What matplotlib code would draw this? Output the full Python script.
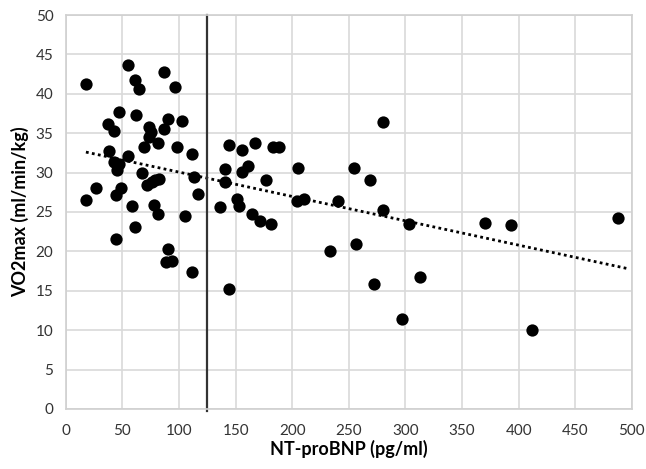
import numpy as np
import matplotlib
matplotlib.use('Agg')
from matplotlib import pyplot as plt

# NT-proBNP (pg/ml) vs VO2max (ml/min/kg)
ntprobnp = [17.7, 17.7, 27, 37.4, 42.7, 38.3, 42.7, 47, 45.3, 46.8,
            48.9, 44.2, 54.5, 55, 60.7, 64.2, 62.1, 58, 60.7, 44.2,
            67.1, 68.9, 73.6, 75, 73, 81.3, 71.3, 75.7, 78.6, 81.9,
            77.7, 81.3, 86.6, 96.3, 90.4, 86.8, 97.8, 102.5, 111.3, 113.1,
            116.3, 105.4, 90.4, 88.3, 93.6, 111.3, 143.7, 136, 144, 140.5,
            140.5, 151.6, 153, 156, 156, 161, 164, 167, 183.1, 188.4,
            176.4, 171.4, 180.8, 205.2, 203.8, 210.2, 240.6, 233.2, 254.4, 268.6,
            280.3, 280.3, 255.9, 272.4, 303.3, 312.7, 297.1, 370.1, 393.1, 487.9,
            411.4]
vo2max = [41.2, 26.5, 28.0, 36.2, 35.3, 32.7, 31.3, 31.1, 30.3, 37.7,
          28.0, 27.2, 32.1, 43.7, 41.7, 40.6, 37.3, 25.8, 23.1, 21.6,
          30.0, 33.3, 35.8, 35.2, 34.5, 33.7, 28.4, 28.8, 29.1, 29.2,
          25.9, 24.7, 42.8, 40.8, 36.8, 35.5, 33.2, 36.6, 32.4, 29.4,
          27.3, 24.5, 20.3, 18.7, 18.8, 17.4, 15.2, 25.6, 33.5, 30.4,
          28.8, 26.7, 25.8, 32.9, 30.1, 30.8, 24.7, 33.7, 33.3, 33.3,
          29.1, 23.8, 23.5, 30.6, 26.4, 26.6, 26.4, 20.1, 30.6, 29.1,
          36.4, 25.3, 20.9, 15.8, 23.5, 16.7, 11.4, 23.6, 23.3, 24.2,
          10.0]

cutoff = 125          # vertical line
trend_slope = -0.0309
trend_intercept = 33.15

plt.rcParams['font.family'] = ['Lato', 'DejaVu Sans']

fig = plt.figure(figsize=(6.46, 4.69), dpi=100)
ax = fig.add_axes([0.102, 0.128, 0.876, 0.84])

ax.scatter(ntprobnp, vo2max, s=78, c='black', zorder=3, linewidths=0)

tx = np.array([min(ntprobnp), 497])
ax.plot(tx, trend_slope * tx + trend_intercept, color='black', lw=2,
        linestyle=(0, (1, 1.2)), zorder=2)

ax.plot([cutoff, cutoff], [-0.3, 50], color='#333333', lw=1.6, zorder=2,
        clip_on=False)

ax.set_xlim(0, 500)
ax.set_ylim(0, 50)
ax.set_xticks(range(0, 501, 50))
ax.set_yticks(range(0, 51, 5))
ax.grid(True, color='#d9d9d9', lw=1.2)
ax.set_axisbelow(True)
for s in ax.spines.values():
    s.set_color('#d0d0d0')
    s.set_linewidth(1.2)
ax.tick_params(axis='both', length=0, labelsize=11, colors='#333333')
ax.tick_params(axis='x', pad=11)
ax.tick_params(axis='y', pad=9)

ax.set_xlabel('NT-proBNP (pg/ml)', fontsize=13, fontweight='bold', labelpad=1)
ax.set_ylabel('VO2max (ml/min/kg)', fontsize=13, fontweight='bold', labelpad=5)

fig.savefig('out.png', dpi=100)
